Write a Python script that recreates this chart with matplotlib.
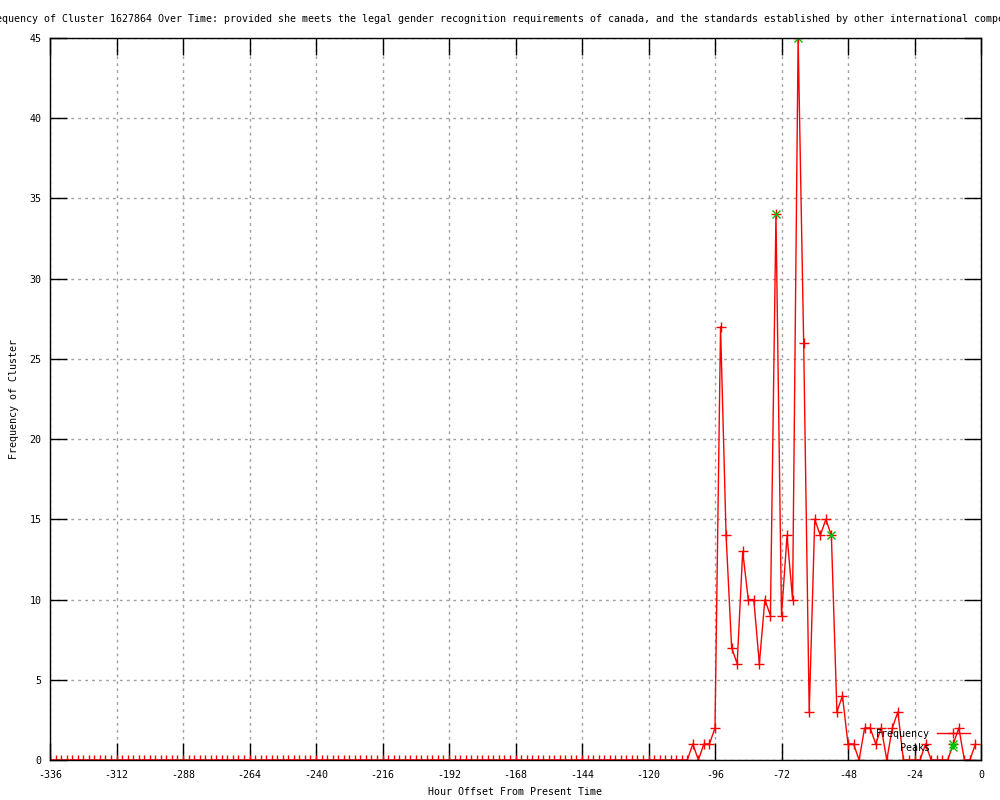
import matplotlib
matplotlib.use("Agg")
import matplotlib.pyplot as plt

# gnuplot-style frequency plot, 2-hour bins from -336h to -2h
hours = list(range(-336, 0, 2))

freq = [
    # -336 .. -106 : nothing
    0, 0, 0, 0, 0, 0, 0, 0, 0, 0, 0, 0, 0, 0, 0, 0, 0, 0, 0, 0,
    0, 0, 0, 0, 0, 0, 0, 0, 0, 0, 0, 0, 0, 0, 0, 0, 0, 0, 0, 0,
    0, 0, 0, 0, 0, 0, 0, 0, 0, 0, 0, 0, 0, 0, 0, 0, 0, 0, 0, 0,
    0, 0, 0, 0, 0, 0, 0, 0, 0, 0, 0, 0, 0, 0, 0, 0, 0, 0, 0, 0,
    0, 0, 0, 0, 0, 0, 0, 0, 0, 0, 0, 0, 0, 0, 0, 0, 0, 0, 0, 0,
    0, 0, 0, 0, 0, 0, 0, 0, 0, 0, 0, 0, 0, 0, 0, 0,
    # -104 .. -2
    1, 0, 1, 1, 2, 27, 14, 7, 6, 13, 10, 10, 6, 10, 9, 34, 9, 14, 10, 45,
    26, 3, 15, 14, 15, 14, 3, 4, 1, 1, 0, 2, 2, 1, 2, 0, 2, 3, 0, 0,
    0, 0, 1, 0, 0, 0, 0, 1, 2, 0, 0, 1,
]

peak_hours = [-74, -66, -54, -10]
peak_values = [34, 45, 14, 1]

x_ticks = list(range(-336, 1, 24))
y_ticks = list(range(0, 46, 5))

# the title is wider than the image, gnuplot just lets it run off both edges
title = ("Frequency of Cluster 1627864 Over Time: provided she meets the legal "
         "gender recognition requirements of canada, and the standards established "
         "by other international competitions")

plt.rcParams['font.family'] = ['DejaVu Sans Mono']
plt.rcParams['axes.unicode_minus'] = False
fs = 7.2

fig = plt.figure(figsize=(10, 8), dpi=100)
ax = fig.add_axes([0.05, 0.05, 0.931, 0.9025])

ax.plot(hours, freq, color='red', linewidth=1, marker='+', markersize=7,
        markeredgewidth=1, label='Frequency')
ax.plot(peak_hours, peak_values, linestyle='none', color='#00c000', marker='x',
        markersize=5.5, markeredgewidth=1, label='Peaks')

ax.set_xlim(-336, 0)
ax.set_ylim(0, 45)
ax.set_xticks(x_ticks)
ax.set_yticks(y_ticks)
ax.tick_params(direction='in', length=12, width=1, top=True, right=True,
               labelsize=fs)
ax.tick_params(axis='x', pad=7)
ax.tick_params(axis='y', pad=6)
ax.grid(True, color='#a0a0a0', linestyle=(0, (2, 3)), linewidth=1)
for s in ax.spines.values():
    s.set_linewidth(1)

ax.set_xlabel("Hour Offset From Present Time", fontsize=fs, labelpad=5)
ax.set_ylabel("Frequency of Cluster", fontsize=fs, labelpad=8)

fig.text(0.515, 1 - 19 / 800, title, ha='center', va='center', fontsize=fs)

ax.legend(loc='lower right', bbox_to_anchor=(0.988, 0.01), frameon=False,
          markerfirst=False, fontsize=fs, handlelength=3.3, handletextpad=0.7,
          labelspacing=0.4, borderpad=0, borderaxespad=0)

fig.savefig("out.png", dpi=100)
